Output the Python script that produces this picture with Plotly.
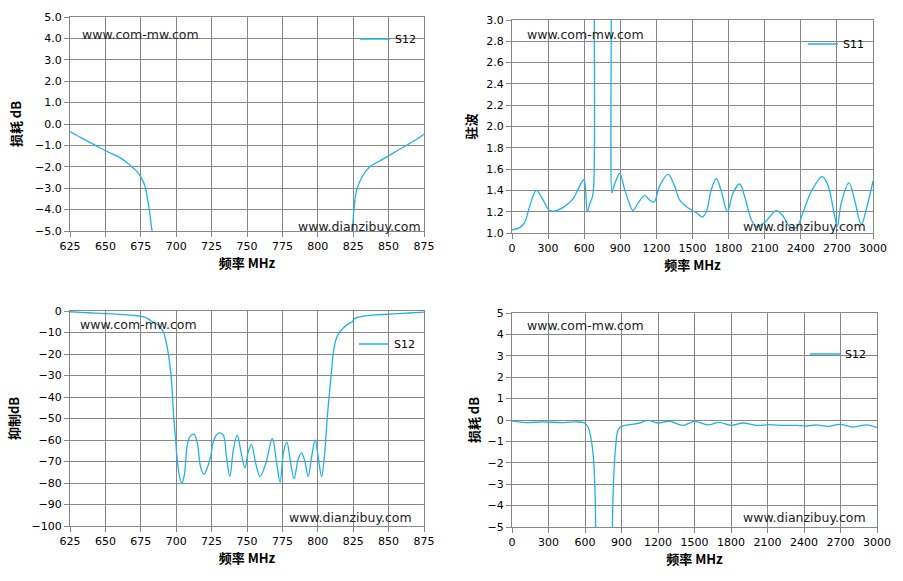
import plotly.graph_objects as go

# Dados (filtro passa-faixa / rejeição)
# S12 na faixa estreita 625-875 MHz (usado nos painéis 1 e 3)
freq_nb = [625, 633, 643, 650, 660, 667, 672, 675, 678, 679.5,
           681, 683, 686, 689, 691, 693.4, 695.7, 697, 698.2, 699.4,
           700.6, 702.3, 704.1, 705.8, 707.7, 709.6, 712.5, 714.8, 717.2, 719.5,
           721.9, 724.2, 726.6, 730.1, 733.2, 735.5, 737.9, 740.3, 743.1, 745.5,
           748.6, 750.7, 753.1, 756.2, 759.2, 763.2, 767.9, 771, 773.4, 775.7,
           778.1, 780.9, 783.3, 786.1, 788.5, 790.9, 793.2, 795.6, 798.2, 800.3,
           802.7, 804.6, 806.9, 809.3, 811.6, 814, 818.7, 822, 824.3, 825.5,
           827.4, 831, 836.7, 843, 849.6, 856, 862.5, 869, 875]
s12_nb = [-0.35, -0.65, -1.0, -1.25, -1.56, -1.9, -2.2, -2.48, -2.9, -3.4,
          -4.0, -5.0, -5.8, -7.8, -9.8, -16, -26, -35, -49, -58.5,
          -68, -77, -80, -76, -63, -58.5, -57.3, -61, -72.5, -76,
          -73, -68, -60, -56.7, -57.7, -68, -77, -64.7, -57.7, -64.7,
          -73, -66, -62, -71, -77, -71, -59.3, -71, -79.6, -66,
          -61, -71, -78, -69, -66, -70, -77, -68, -60, -68,
          -77, -68, -47.7, -30.6, -16.7, -11.3, -7.4, -5.8, -5.0, -4.0,
          -3.1, -2.5, -2.0, -1.75, -1.5, -1.25, -1.0, -0.75, -0.48]

# S11 (VSWR) na faixa larga 0-3000 MHz
freq_s11 = [0, 64, 105, 147, 202, 258, 313, 368, 438, 507,
            548, 596, 609, 626, 645, 668, 679, 684, 700, 810,
            825, 831, 839, 867, 895, 936, 978, 1006, 1047, 1102,
            1144, 1180, 1227, 1296, 1352, 1393, 1476, 1532, 1582, 1615,
            1657, 1698, 1740, 1790, 1837, 1892, 1934, 1989, 2030, 2100,
            2196, 2252, 2307, 2363, 2418, 2487, 2578, 2625, 2681, 2703,
            2736, 2800, 2847, 2902, 2944, 3000]
vswr_s11 = [1.03, 1.05, 1.10, 1.25, 1.40, 1.31, 1.21, 1.21, 1.25, 1.32,
            1.41, 1.50, 1.44, 1.20, 1.27, 1.34, 1.44, 3.5, 20, 20,
            3.5, 1.375, 1.41, 1.50, 1.56, 1.41, 1.27, 1.21, 1.28, 1.35,
            1.31, 1.29, 1.44, 1.55, 1.44, 1.31, 1.225, 1.19, 1.15, 1.20,
            1.41, 1.51, 1.39, 1.20, 1.375, 1.46, 1.34, 1.125, 1.06, 1.10,
            1.21, 1.16, 1.06, 1.05, 1.19, 1.39, 1.53, 1.45, 1.16, 1.06,
            1.28, 1.47, 1.31, 1.08, 1.22, 1.49]

# S12 na faixa larga 0-3000 MHz
freq_wb = [0, 118, 255, 419, 529, 597, 625, 652, 671, 682,
           688, 695, 815, 825, 836, 852, 871, 899, 967, 1049,
           1118, 1200, 1296, 1405, 1501, 1611, 1701, 1803, 1899, 2008,
           2118, 2227, 2337, 2419, 2501, 2597, 2693, 2803, 2912, 3000]
s12_wb = [-0.05, -0.12, -0.09, -0.12, -0.09, -0.14, -0.33, -0.95, -1.9, -3.3,
          -5.0, -30, -30, -5.0, -2.7, -1.26, -0.48, -0.3, -0.22, -0.14,
          -0.02, -0.14, -0.06, -0.25, -0.06, -0.23, -0.11, -0.25, -0.14, -0.25,
          -0.22, -0.25, -0.25, -0.28, -0.23, -0.30, -0.20, -0.33, -0.23, -0.36]

W, H = 903, 581
LINE = '#22b1e6'
GRID = '#878787'
FONT = 'DejaVu Sans'
CJK = 'Noto Sans CJK SC'


def px(x):
    return x / W


def py(y):
    return 1 - y / H


def eixo(domain, rng, dtick, fmt=None, title='', standoff=6, tick0=None):
    d = dict(domain=domain, range=rng, dtick=dtick, showgrid=True, gridcolor=GRID,
             gridwidth=1, showline=True, linecolor=GRID, linewidth=1, mirror=True,
             ticks='outside', ticklen=5, tickcolor=GRID, zeroline=False,
             tickfont=dict(family=FONT, size=11, color='black'),
             title=dict(text=title, font=dict(family=CJK, size=13, color='black'),
                        standoff=standoff),
             automargin=False, fixedrange=True)
    if fmt:
        d['tickformat'] = fmt
    if tick0 is not None:
        d['tick0'] = tick0
    return d


fig = go.Figure()
trace_style = dict(mode='lines', line=dict(color=LINE, width=1.3, shape='spline', smoothing=1))
fig.add_trace(go.Scatter(x=freq_nb, y=s12_nb, name='S12', xaxis='x', yaxis='y',
                         legend='legend', **trace_style))
fig.add_trace(go.Scatter(x=freq_s11, y=vswr_s11, name='S11', xaxis='x2', yaxis='y2',
                         legend='legend2', **trace_style))
fig.add_trace(go.Scatter(x=freq_nb, y=s12_nb, name='S12', xaxis='x3', yaxis='y3',
                         legend='legend3', **trace_style))
fig.add_trace(go.Scatter(x=freq_wb, y=s12_wb, name='S12', xaxis='x4', yaxis='y4',
                         legend='legend4', **trace_style))

xt = '<b>频率 MHz</b>'
fig.update_layout(
    width=W, height=H, showlegend=True,
    margin=dict(l=0, r=0, t=0, b=0),
    paper_bgcolor='white', plot_bgcolor='white',
    xaxis=eixo([px(70), px(424)], [625, 875], 25, title=xt, tick0=625),
    yaxis=eixo([py(231), py(17)], [-5, 5], 1, '.1f', '<b>损耗 dB</b>', 10),
    xaxis2=eixo([px(512), px(873)], [0, 3000], 300, title=xt, tick0=0),
    yaxis2=eixo([py(233), py(20)], [1, 3], 0.2, '.1f', '<b>驻波</b>', 6),
    xaxis3=eixo([px(70), px(424)], [625, 875], 25, title=xt, tick0=625),
    yaxis3=eixo([py(526), py(311)], [-100, 0], 10, None, '<b>抑制dB</b>', 9),
    xaxis4=eixo([px(512), px(877)], [0, 3000], 300, title=xt, tick0=0),
    yaxis4=eixo([py(527), py(313)], [-5, 5], 1, None, '<b>损耗 dB</b>', 5),
)
fig.layout.xaxis2.anchor = 'y2'
fig.layout.yaxis2.anchor = 'x2'
fig.layout.xaxis3.anchor = 'y3'
fig.layout.yaxis3.anchor = 'x3'
fig.layout.xaxis4.anchor = 'y4'
fig.layout.yaxis4.anchor = 'x4'

# legendas (uma por gráfico) com caixa branca por cima da grade
leg = dict(xanchor='left', yanchor='middle', bgcolor='rgba(0,0,0,0)', borderwidth=0,
           itemwidth=30, font=dict(family=FONT, size=11, color='black'))
boxes = [(354, 22, 416, 57, 39), (802, 30, 866, 63, 44),
         (353, 328, 413, 367, 344), (804, 327, 867, 378, 354)]
names = ['legend', 'legend2', 'legend3', 'legend4']
for nm, (x0, y0, x1, y1, yc) in zip(names, boxes):
    fig.add_shape(type='rect', xref='paper', yref='paper', x0=px(x0), x1=px(x1),
                  y0=py(y1), y1=py(y0), fillcolor='white', line=dict(width=0),
                  layer='between')
    fig.update_layout({nm: dict(leg, x=px(x0 + 1), y=py(yc))})

# marcas d'água
marcas = [(80, 35, 'www.com-mw.com'), (296, 227, 'www.dianzibuy.com'),
          (525, 35, 'www.com-mw.com'), (741, 226, 'www.dianzibuy.com'),
          (78, 324, 'www.com-mw.com'), (287, 517, 'www.dianzibuy.com'),
          (525, 325, 'www.com-mw.com'), (741, 517, 'www.dianzibuy.com')]
for x, y, t in marcas:
    fig.add_annotation(x=px(x), y=py(y), xref='paper', yref='paper', text=t,
                       showarrow=False, xanchor='left', yanchor='middle',
                       font=dict(family=FONT, size=12.5, color='#222222'))

# sem margem do body, para a figura ficar no canto da janela
fig.write_html('out.html', config={'displayModeBar': False},
               post_script="document.body.style.margin='0';")
